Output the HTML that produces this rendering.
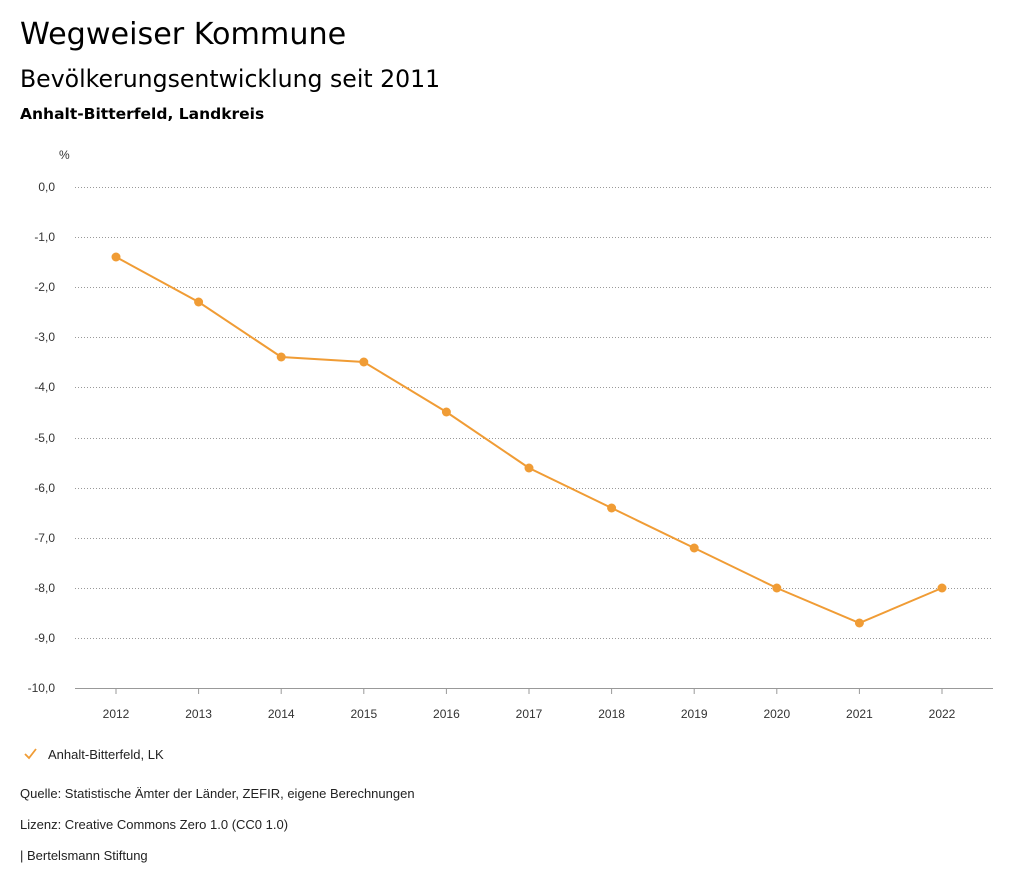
<!DOCTYPE html>
<html><head><meta charset="utf-8"><style>
body{margin:0;background:#fff;width:1024px;height:888px;overflow:hidden;font-family:"Liberation Sans",sans-serif;color:#000}
.t{position:absolute;left:20px;white-space:nowrap;font-family:"DejaVu Sans",sans-serif}
</style></head><body>
<div class="t" style="top:17px;font-size:30.2px">Wegweiser Kommune</div>
<div class="t" style="top:65px;font-size:23.6px">Bevölkerungsentwicklung seit 2011</div>
<div class="t" style="top:105px;font-size:15.5px;font-weight:bold">Anhalt-Bitterfeld, Landkreis</div>
<svg width="1024" height="888" style="position:absolute;left:0;top:0" font-family="Liberation Sans, sans-serif" font-size="12">
<text x="59" y="159" fill="#333">%</text>
<g stroke="#999" stroke-dasharray="1,2" stroke-width="1">
<line x1="75" x2="993" y1="187.5" y2="187.5"/><line x1="75" x2="993" y1="237.5" y2="237.5"/><line x1="75" x2="993" y1="287.5" y2="287.5"/><line x1="75" x2="993" y1="337.5" y2="337.5"/><line x1="75" x2="993" y1="387.5" y2="387.5"/><line x1="75" x2="993" y1="438.5" y2="438.5"/><line x1="75" x2="993" y1="488.5" y2="488.5"/><line x1="75" x2="993" y1="538.5" y2="538.5"/><line x1="75" x2="993" y1="588.5" y2="588.5"/><line x1="75" x2="993" y1="638.5" y2="638.5"/>
</g>
<line x1="75" x2="993" y1="688.5" y2="688.5" stroke="#999"/>
<g fill="#333" text-anchor="end">
<text x="55" y="191">0,0</text><text x="55" y="241">-1,0</text><text x="55" y="291">-2,0</text><text x="55" y="341">-3,0</text><text x="55" y="391">-4,0</text><text x="55" y="442">-5,0</text><text x="55" y="492">-6,0</text><text x="55" y="542">-7,0</text><text x="55" y="592">-8,0</text><text x="55" y="642">-9,0</text><text x="55" y="692">-10,0</text>
</g>
<g stroke="#999"><line x1="116" x2="116" y1="688" y2="694"/><line x1="198.6" x2="198.6" y1="688" y2="694"/><line x1="281.2" x2="281.2" y1="688" y2="694"/><line x1="363.8" x2="363.8" y1="688" y2="694"/><line x1="446.4" x2="446.4" y1="688" y2="694"/><line x1="529" x2="529" y1="688" y2="694"/><line x1="611.6" x2="611.6" y1="688" y2="694"/><line x1="694.2" x2="694.2" y1="688" y2="694"/><line x1="776.8" x2="776.8" y1="688" y2="694"/><line x1="859.4" x2="859.4" y1="688" y2="694"/><line x1="942" x2="942" y1="688" y2="694"/></g>
<g fill="#333" text-anchor="middle">
<text x="116" y="718">2012</text><text x="198.6" y="718">2013</text><text x="281.2" y="718">2014</text><text x="363.8" y="718">2015</text><text x="446.4" y="718">2016</text><text x="529" y="718">2017</text><text x="611.6" y="718">2018</text><text x="694.2" y="718">2019</text><text x="776.8" y="718">2020</text><text x="859.4" y="718">2021</text><text x="942" y="718">2022</text>
</g>
<polyline fill="none" stroke="#f09c35" stroke-width="2" points="116,257 198.6,302 281.2,357 363.8,362 446.4,412 529,468 611.6,508 694.2,548 776.8,588 859.4,623 942,588"/>
<g fill="#f09c35">
<circle cx="116" cy="257" r="4.5"/><circle cx="198.6" cy="302" r="4.5"/><circle cx="281.2" cy="357" r="4.5"/><circle cx="363.8" cy="362" r="4.5"/><circle cx="446.4" cy="412" r="4.5"/><circle cx="529" cy="468" r="4.5"/><circle cx="611.6" cy="508" r="4.5"/><circle cx="694.2" cy="548" r="4.5"/><circle cx="776.8" cy="588" r="4.5"/><circle cx="859.4" cy="623" r="4.5"/><circle cx="942" cy="588" r="4.5"/>
</g>
<polyline fill="none" stroke="#f09c35" stroke-width="1.8" points="25,754 29,758 36,749"/>
<text x="48" y="759" fill="#222" font-size="13">Anhalt-Bitterfeld, LK</text>
<text x="20" y="798" fill="#222" font-size="13">Quelle: Statistische Ämter der Länder, ZEFIR, eigene Berechnungen</text>
<text x="20" y="829" fill="#222" font-size="13">Lizenz: Creative Commons Zero 1.0 (CC0 1.0)</text>
<text x="20" y="860" fill="#222" font-size="13">| Bertelsmann Stiftung</text>
</svg>
</body></html>
